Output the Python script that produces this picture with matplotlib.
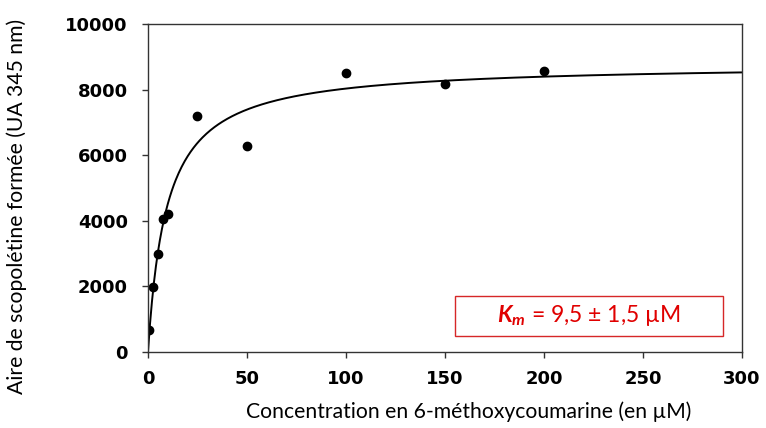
import numpy as np
import matplotlib
matplotlib.use("Agg")
import matplotlib.pyplot as plt
from matplotlib.patches import Rectangle

# mesures
conc = [0.5, 2.5, 5, 7.5, 10, 25, 50, 100, 150, 200]
aire = [660, 1970, 2980, 4050, 4210, 7210, 6290, 8510, 8170, 8570]

# ajustement Michaelis-Menten
Km = 9.5
Vmax = 8800

xticks = [0, 50, 100, 150, 200, 250, 300]
yticks = [0, 2000, 4000, 6000, 8000, 10000]

plt.rcParams['mathtext.fontset'] = 'custom'
plt.rcParams['mathtext.rm'] = 'Lato'
plt.rcParams['mathtext.bfit'] = 'Lato:bold:italic'

fig = plt.figure(figsize=(7.66, 4.28), dpi=100)
ax = fig.add_axes([0.1932, 0.1783, 0.7755, 0.765])

xs = np.linspace(0, 300, 600)
ax.plot(xs, Vmax*xs/(Km+xs), color='black', lw=1.4)
ax.plot(conc, aire, 'o', color='black', ms=6)

ax.set_xlim(0, 300)
ax.set_ylim(0, 10000)
ax.set_xticks(xticks)
ax.set_yticks(yticks)
for lab in ax.get_xticklabels() + ax.get_yticklabels():
    lab.set_fontfamily('DejaVu Sans')
    lab.set_fontweight('bold')
    lab.set_fontsize(13)
ax.tick_params(direction='out', length=4.5, width=1, color='#333333')
ax.tick_params(axis='y', pad=10)
ax.tick_params(axis='x', pad=9)
for s in ax.spines.values():
    s.set_color('#333333')
    s.set_linewidth(1)

ax.set_xlabel('Concentration en 6-méthoxycoumarine (en µM)', family='Lato',
              fontsize=15.2)
ax.set_ylabel('Aire de scopolétine formée (UA 345 nm)', family='Lato',
              fontsize=15.2)
ax.xaxis.set_label_coords(0.540, -0.151)
ax.yaxis.set_label_coords(-0.204, 0.445)

ax.add_patch(Rectangle((0.517, 0.048), 0.451, 0.122, transform=ax.transAxes,
                       fill=False, edgecolor='#d62728', lw=1))
ax.text(0.7416, 0.109, r'$\mathbfit{K}_{\mathbfit{m}}$ = 9,5 ± 1,5 µM',
        transform=ax.transAxes, ha='center', va='center', color='#e00000',
        family='Lato', fontsize=16.5)

fig.savefig('out.png', dpi=100)
